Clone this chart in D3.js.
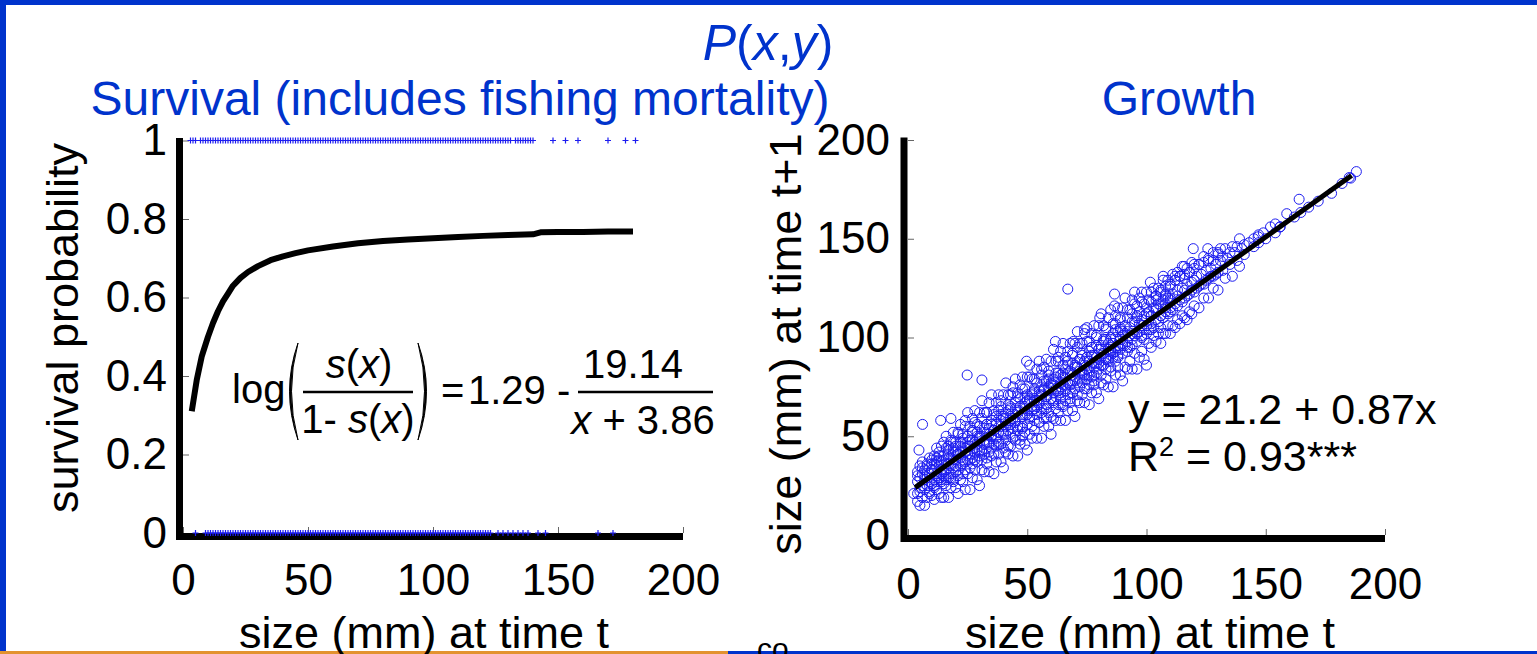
<!DOCTYPE html>
<html>
<head>
<meta charset="utf-8">
<script src="https://cdn.jsdelivr.net/npm/d3@7"></script>
<style>
  html, body { margin: 0; padding: 0; background: #fff; }
  svg { display: block; font-family: "Liberation Sans", Arial, sans-serif; }
</style>
</head>
<body>
<svg id="chart" width="1537" height="654"></svg>
<script>
// ---- data ----
const survTicks = [0, 0.2, 0.4, 0.6, 0.8, 1];
const survTickLabels = ["0", "0.2", "0.4", "0.6", "0.8", "1"];
const sizeTicks = [0, 50, 100, 150, 200];
const growthTicks = [0, 50, 100, 150, 200];

// fish that survived (plotted at 1) and died (plotted at 0), size in mm
const survivedSizes = [3, 4, 5, 7, 8, 9, 10, 11, 12, 13, 14, 15, 16, 17, 18, 19, 20, 21, 22, 23, 24, 25,
  26, 27, 28, 29, 30, 31, 32, 33, 34, 35, 36, 37, 38, 39, 40, 41, 42, 43, 44, 45, 46, 47, 48, 49, 50,
  51, 52, 53, 54, 55, 56, 57, 58, 59, 60, 61, 62, 63, 64, 65, 66, 67, 68, 69, 70, 71, 72, 73, 74, 75,
  76, 77, 78, 79, 80, 81, 82, 83, 84, 85, 86, 87, 88, 89, 90, 91, 92, 93, 94, 95, 96, 97, 98, 99, 100,
  101, 102, 103, 104, 105, 106, 107, 108, 109, 110, 111, 112, 113, 114, 115, 116, 117, 118, 119, 120,
  121, 122, 123, 124, 125, 126, 127, 128, 129, 130, 131, 133, 134, 135, 136, 137, 138, 139, 140,
  148, 153, 158, 170, 177, 181];
const diedSizes = [5, 9, 10, 11, 12, 13, 14, 15, 16, 17, 18, 19, 20, 21, 22, 23, 24, 25, 26, 27, 28, 29,
  30, 31, 32, 33, 34, 35, 36, 37, 38, 39, 40, 41, 42, 43, 44, 45, 46, 47, 48, 49, 50, 51, 52, 53, 54,
  55, 56, 57, 58, 59, 60, 61, 62, 63, 64, 65, 66, 67, 68, 69, 70, 71, 72, 73, 74, 75, 76, 77, 78, 79,
  80, 81, 82, 83, 84, 85, 86, 87, 88, 89, 90, 91, 92, 93, 94, 95, 96, 97, 98, 99, 100, 101, 102, 103,
  104, 105, 106, 107, 108, 109, 110, 111, 112, 113, 114, 115, 116, 117, 118, 119, 120, 121, 122, 123,
  126, 128, 130, 132, 134, 136, 138, 142, 145, 166, 172];

// fitted survival curve
const survCurveX = [3.5, 4.5, 5.5, 6.5, 7.5, 8.5, 10, 12, 14, 16, 18, 20, 23, 26, 30, 35, 40, 45, 50, 60,
  70, 80, 90, 100, 110, 120, 130, 140, 143, 150, 160, 170, 180];
const survCurveY = [0.31, 0.35, 0.39, 0.42, 0.45, 0.47, 0.5, 0.535, 0.565, 0.59, 0.61, 0.63, 0.65,
  0.665, 0.68, 0.695, 0.705, 0.713, 0.72, 0.73, 0.738, 0.744, 0.748, 0.751, 0.754, 0.757, 0.759,
  0.761, 0.766, 0.767, 0.767, 0.768, 0.768];

// growth: [size at t, sizes at t+1 ...]
const growthRows = [
  [4, 21, 27, 30], [5, 24, 29, 22], [6, 31, 25, 34], [7, 23, 28, 30], [8, 35, 25, 29],
  [9, 22, 31, 27], [10, 33, 26, 38], [11, 28, 36, 24], [12, 30, 39, 27], [13, 35, 29, 42],
  [14, 27, 37, 31], [15, 40, 30, 26], [16, 33, 44, 28], [17, 41, 29, 36], [18, 31, 47, 39],
  [19, 34, 42, 28], [20, 45, 32, 38], [21, 30, 41, 52], [22, 47, 35, 42], [23, 36, 49, 31],
  [24, 44, 33, 55], [25, 38, 50, 45], [26, 34, 48, 41], [27, 53, 39, 36], [28, 42, 57, 47],
  [29, 37, 50, 43], [30, 55, 40, 49], [31, 43, 59, 38], [32, 52, 41, 46], [33, 39, 56, 62],
  [34, 47, 54, 42], [35, 58, 44, 50], [36, 41, 61, 53], [37, 49, 57, 45], [38, 63, 47, 52],
  [39, 46, 58, 68], [40, 51, 60, 44], [41, 62, 48, 55], [42, 53, 66, 45], [43, 64, 51, 58],
  [44, 49, 61, 72], [45, 57, 67, 50], [46, 70, 53, 63], [47, 55, 65, 48], [48, 60, 74, 54],
  [49, 52, 67, 61], [50, 71, 56, 63], [51, 59, 69, 80], [52, 63, 55, 72], [53, 74, 58, 68],
  [54, 61, 77, 65], [55, 57, 71, 66], [56, 75, 62, 84], [57, 64, 73, 59], [58, 78, 66, 70],
  [59, 62, 75, 81], [60, 69, 60, 77], [61, 79, 67, 72], [62, 64, 82, 70], [63, 73, 90, 66],
  [64, 81, 69, 75], [65, 65, 80, 86], [66, 74, 84, 68], [67, 88, 71, 77], [68, 69, 83, 76],
  [69, 78, 92, 72], [70, 86, 74, 80], [71, 71, 85, 95], [72, 79, 89, 75], [73, 92, 77, 83],
  [74, 74, 88, 81], [75, 90, 79, 98], [76, 83, 93, 76], [77, 95, 80, 87], [78, 78, 91, 85],
  [79, 87, 101, 82], [80, 94, 84, 89], [81, 81, 96, 90], [82, 99, 86, 92], [83, 89, 104, 84],
  [84, 97, 88, 93], [85, 85, 100, 91], [86, 102, 92, 97], [87, 93, 107, 88], [88, 95, 103, 91],
  [89, 104, 94, 110], [90, 92, 101, 97], [91, 106, 96, 102], [92, 98, 110, 93], [93, 105, 95, 101],
  [94, 99, 112, 96], [95, 108, 101, 117], [96, 102, 110, 98], [97, 113, 103, 107], [98, 100, 109, 118],
  [99, 111, 104, 99], [100, 106, 115, 102], [101, 113, 104], [102, 107, 118, 111], [103, 115, 105],
  [104, 109, 121, 114], [105, 117, 108], [106, 111, 124, 116], [107, 119, 110], [108, 113, 122, 117],
  [109, 120, 112], [110, 115, 127, 119], [111, 122, 114], [112, 117, 129], [113, 124, 116, 121],
  [114, 119, 131], [115, 125, 118], [116, 120, 130, 124], [117, 127, 121], [118, 122, 133],
  [119, 128, 124], [120, 123, 135, 129], [121, 131, 125], [122, 126, 137], [123, 132, 127],
  [124, 127, 138], [125, 134, 129], [126, 130, 140], [127, 135, 131], [128, 131, 139],
  [129, 137, 132], [130, 133, 142], [131, 139], [132, 134, 141], [134, 140], [135, 137, 143],
  [137, 143], [138, 139, 146], [140, 145], [141, 142, 147], [143, 148], [145, 150, 146],
  [147, 148, 152], [149, 153], [150, 150], [152, 156], [154, 153], [156, 156], [162, 161],
  [168, 166], [172, 169], [182, 178], [185, 181]
];
// the wider edges of the cloud: [size at t, low, high]
const growthEdgeRows = [
  [4, 17, 32], [5, 15, 35], [6, 19, 37], [7, 15, 33], [8, 19, 36], [9, 21, 39], [10, 20, 36],
  [11, 18, 40], [12, 23, 44], [13, 21, 40], [14, 19, 45], [15, 19, 47], [16, 25, 50], [17, 19, 45],
  [18, 24, 48], [19, 27, 52], [20, 24, 47], [21, 21, 51], [22, 28, 56], [23, 27, 51], [24, 23, 58],
  [25, 31, 62], [26, 23, 55], [27, 29, 59], [28, 33, 63], [29, 28, 56], [30, 25, 62], [31, 33, 68],
  [32, 32, 62], [33, 36, 62], [34, 32, 67], [35, 40, 71], [36, 31, 63], [37, 37, 67], [38, 41, 71],
  [39, 37, 65], [40, 34, 71], [41, 42, 77], [42, 41, 71], [43, 45, 71], [44, 40, 75], [45, 48, 79],
  [46, 40, 72], [47, 46, 76], [48, 50, 80], [49, 46, 74], [50, 43, 80], [51, 51, 86], [52, 49, 79],
  [53, 53, 79], [54, 49, 84], [55, 57, 88], [56, 49, 81], [57, 55, 85], [58, 59, 89], [59, 55, 83],
  [60, 51, 88], [61, 59, 94], [62, 58, 88], [63, 62, 88], [64, 58, 93], [65, 66, 97], [66, 58, 90],
  [67, 63, 93], [68, 67, 97], [69, 63, 91], [70, 60, 97], [71, 68, 103], [72, 67, 97], [73, 71, 97],
  [74, 67, 102], [75, 74, 105], [76, 66, 98], [77, 72, 102], [78, 76, 106], [79, 72, 100],
  [80, 69, 106], [81, 77, 112], [82, 76, 106], [83, 79, 105], [84, 75, 110], [85, 83, 114],
  [86, 75, 107], [87, 81, 111], [88, 85, 115], [89, 81, 109], [90, 78, 115], [91, 85, 120],
  [92, 84, 114], [93, 88, 114], [94, 84, 119], [95, 92, 123], [96, 84, 116], [97, 90, 120],
  [98, 93, 123], [99, 89, 117], [100, 86, 123], [101, 97, 119], [102, 95, 123], [103, 101, 125],
  [104, 98, 121], [105, 102, 125], [106, 97, 123], [107, 102, 129], [108, 102, 126], [109, 106, 129],
  [110, 102, 126], [111, 106, 132], [112, 105, 129], [113, 109, 133], [114, 107, 131], [115, 111, 136],
  [116, 110, 132], [117, 109, 135], [118, 113, 133], [119, 112, 138], [120, 116, 137], [122, 115, 137],
  [124, 120, 141], [126, 120, 139], [128, 125, 143], [130, 124, 143], [133, 130, 145], [136, 131, 146],
  [139, 136, 150]
];
// the dense core close to the fitted line: [size at t, a, b]
const growthCoreRows = [
  [10, 26, 33], [11, 33, 25], [12, 37, 31], [13, 29, 38], [14, 33, 28], [15, 38, 32], [16, 29, 36],
  [17, 39, 43], [18, 35, 29], [19, 44, 38], [20, 35, 42], [21, 41, 33], [22, 45, 39], [23, 38, 47],
  [24, 42, 37], [25, 47, 41], [26, 38, 45], [27, 48, 52], [28, 44, 38], [29, 52, 46], [30, 43, 50],
  [31, 50, 42], [32, 54, 48], [33, 47, 56], [34, 51, 46], [35, 56, 50], [36, 46, 53], [37, 56, 60],
  [38, 52, 46], [39, 61, 55], [40, 52, 59], [41, 59, 51], [42, 63, 57], [43, 56, 65], [44, 59, 54],
  [45, 64, 58], [46, 55, 62], [47, 65, 69], [48, 61, 55], [49, 70, 64], [50, 61, 68], [51, 68, 60],
  [52, 71, 65], [53, 64, 73], [54, 68, 63], [55, 73, 67], [56, 64, 71], [57, 74, 78], [58, 70, 64],
  [59, 79, 73], [60, 69, 76], [61, 76, 68], [62, 80, 74], [63, 73, 82], [64, 77, 72], [65, 82, 76],
  [66, 73, 80], [67, 82, 86], [68, 78, 72], [69, 87, 81], [70, 78, 85], [71, 85, 77], [72, 89, 83],
  [73, 82, 91], [74, 86, 81], [75, 90, 84], [76, 81, 88], [77, 91, 95], [78, 87, 81], [79, 96, 90],
  [80, 87, 94], [81, 94, 86], [82, 98, 92], [83, 90, 99], [84, 94, 89], [85, 99, 93], [86, 90, 97],
  [87, 100, 104], [88, 96, 90], [89, 105, 99], [90, 96, 103], [92, 103, 95], [94, 108, 102],
  [96, 102, 111], [98, 106, 101], [100, 112, 106], [102, 104, 111], [104, 115, 119], [106, 111, 105],
  [108, 121, 115], [110, 113, 120]
];
const growthOutliers = [[2.4, 21], [4.6, 43], [6.1, 56], [13.7, 58], [18, 59], [24.8, 81], [31, 78.5],
  [49.7, 88], [61.8, 98], [69.3, 98], [74, 104], [80.4, 110], [86.6, 116], [86.6, 122], [67, 124.5],
  [101.6, 128], [107, 131], [112, 131], [115.8, 136], [119.6, 145], [125.7, 145], [131, 145],
  [146.8, 151], [154, 157.5], [156, 156], [158.8, 162.7], [164.7, 163.3], [164, 170], [177.6, 173],
  [185.6, 180.7], [188, 184]];
const fitX = [3, 186];
const fitY = [24, 182];

// ---- setup ----
const blue = "#0033cc";
const markBlue = "#1c1cf0";
const svg = d3.select("#chart");

// slide frame
svg.append("rect").attr("x", 0).attr("y", 0).attr("width", 1537).attr("height", 5).attr("fill", blue);
svg.append("rect").attr("x", 0).attr("y", 0).attr("width", 6).attr("height", 654).attr("fill", blue);
svg.append("rect").attr("x", 0).attr("y", 651).attr("width", 728).attr("height", 3).attr("fill", "#e3922f");
svg.append("rect").attr("x", 728).attr("y", 651).attr("width", 809).attr("height", 3).attr("fill", blue);

// titles
const titleP = svg.append("text")
  .attr("x", 768).attr("y", 60)
  .attr("text-anchor", "middle")
  .attr("fill", blue)
  .style("font-size", "50px");
titleP.append("tspan").style("font-style", "italic").text("P");
titleP.append("tspan").text("(");
titleP.append("tspan").style("font-style", "italic").text("x");
titleP.append("tspan").text(",");
titleP.append("tspan").style("font-style", "italic").text("y");
titleP.append("tspan").text(")");

svg.append("text").attr("x", 460).attr("y", 115).attr("text-anchor", "middle")
  .attr("fill", blue).style("font-size", "48px").text("Survival (includes fishing mortality)");
svg.append("text").attr("x", 1179).attr("y", 115).attr("text-anchor", "middle")
  .attr("fill", blue).style("font-size", "48px").text("Growth");

// ---- left panel: survival ----
const xL = d3.scaleLinear().domain([0, 200]).range([183, 683]);
const yL = d3.scaleLinear().domain([0, 1]).range([533, 140.5]);

function styleAxis(g) {
  g.select(".domain").remove();
  g.selectAll(".tick line").attr("stroke", "#666").attr("stroke-width", 1);
  g.selectAll(".tick text").attr("fill", "#000").style("font-size", "44px")
    .style("font-family", "'Liberation Sans', Arial, sans-serif");
}

svg.append("g")
  .attr("transform", `translate(${xL(0)},0)`)
  .call(d3.axisLeft(yL).tickValues(survTicks).tickFormat((d, i) => survTickLabels[i])
    .tickSizeInner(-6).tickSizeOuter(0).tickPadding(16))
  .call(styleAxis);

svg.append("g")
  .attr("transform", `translate(0,${yL(0)})`)
  .call(d3.axisBottom(xL).tickValues(sizeTicks).tickSizeInner(-6).tickSizeOuter(0).tickPadding(31))
  .call(styleAxis);

// axis lines (thick, drawn just outside the data box)
svg.append("path")
  .attr("d", `M${xL(0) - 3.5},${yL(1) - 2.5}V${yL(0) + 3.5}H${xL(200)}`)
  .attr("fill", "none").attr("stroke", "#000").attr("stroke-width", 7);

const plus = "M-3,0H3M0,-3V3";
svg.append("g").selectAll("path.surv")
  .data(survivedSizes).join("path")
  .attr("transform", d => `translate(${xL(d)},${yL(1)})`)
  .attr("d", plus).attr("stroke", markBlue).attr("stroke-width", 1.2).attr("fill", "none");
svg.append("g").selectAll("path.died")
  .data(diedSizes).join("path")
  .attr("transform", d => `translate(${xL(d)},${yL(0)})`)
  .attr("d", plus).attr("stroke", markBlue).attr("stroke-width", 1.2).attr("fill", "none");

const survLine = d3.line().x(d => xL(d[0])).y(d => yL(d[1]));
svg.append("path")
  .datum(d3.zip(survCurveX, survCurveY))
  .attr("d", survLine)
  .attr("fill", "none").attr("stroke", "#000").attr("stroke-width", 6)
  .attr("stroke-linejoin", "round");

svg.append("text")
  .attr("transform", "translate(78,328) rotate(-90)")
  .attr("text-anchor", "middle").style("font-size", "45px")
  .text("survival probability");
svg.append("text").attr("x", 424).attr("y", 648).attr("text-anchor", "middle")
  .style("font-size", "45px").text("size (mm) at time t");

// equation
const eq = svg.append("g").style("font-size", "40px").attr("fill", "#000");
eq.append("text").attr("x", 232).attr("y", 403).text("log");
function paren(x0, dir) {
  // crescent-shaped tall bracket
  const b = x0 + dir * 17;
  const bi = x0 + dir * 13;
  eq.append("path")
    .attr("d", `M${x0},343Q${b},391 ${x0},440Q${bi},391 ${x0},343Z`)
    .attr("fill", "#000").attr("stroke", "#000").attr("stroke-width", 1);
}
paren(298, -1);
paren(418, 1);
const num1 = eq.append("text").attr("x", 359).attr("y", 378).attr("text-anchor", "middle");
num1.append("tspan").style("font-style", "italic").text("s");
num1.append("tspan").text("(");
num1.append("tspan").style("font-style", "italic").text("x");
num1.append("tspan").text(")");
eq.append("line").attr("x1", 303).attr("x2", 413).attr("y1", 392).attr("y2", 392)
  .attr("stroke", "#000").attr("stroke-width", 2.5);
const den1 = eq.append("text").attr("x", 358).attr("y", 433).attr("text-anchor", "middle");
den1.append("tspan").text("1- ");
den1.append("tspan").style("font-style", "italic").text("s");
den1.append("tspan").text("(");
den1.append("tspan").style("font-style", "italic").text("x");
den1.append("tspan").text(")");
eq.append("text").attr("x", 441).attr("y", 404).text("=");
eq.append("text").attr("x", 468).attr("y", 404).text("1.29 -");
eq.append("text").attr("x", 633).attr("y", 378).attr("text-anchor", "middle").text("19.14");
eq.append("line").attr("x1", 578).attr("x2", 713).attr("y1", 392).attr("y2", 392)
  .attr("stroke", "#000").attr("stroke-width", 2.5);
const den2 = eq.append("text").attr("x", 643).attr("y", 434).attr("text-anchor", "middle");
den2.append("tspan").style("font-style", "italic").text("x");
den2.append("tspan").text(" + 3.86");

// ---- right panel: growth ----
const xR = d3.scaleLinear().domain([0, 200]).range([908, 1385]);
const yR = d3.scaleLinear().domain([0, 200]).range([535, 140]);

svg.append("g")
  .attr("transform", `translate(${xR(0)},0)`)
  .call(d3.axisLeft(yR).tickValues(growthTicks).tickSizeInner(-6).tickSizeOuter(0).tickPadding(18))
  .call(styleAxis);
svg.append("g")
  .attr("transform", `translate(0,${yR(0)})`)
  .call(d3.axisBottom(xR).tickValues(sizeTicks).tickSizeInner(-6).tickSizeOuter(0).tickPadding(33))
  .call(styleAxis);

svg.append("path")
  .attr("d", `M${xR(0) - 4},${yR(200) - 2.5}V${yR(0) + 3.5}H${xR(200)}`)
  .attr("fill", "none").attr("stroke", "#000").attr("stroke-width", 7);

const toPoints = rows => rows.flatMap(r => r.slice(1).map(v => [r[0], v]));
const growthPoints = toPoints(growthEdgeRows)
  .concat(toPoints(growthRows), toPoints(growthCoreRows), growthOutliers);
svg.append("g").selectAll("circle")
  .data(growthPoints).join("circle")
  .attr("cx", d => xR(d[0])).attr("cy", d => yR(d[1])).attr("r", 5)
  .attr("fill", "none").attr("stroke", markBlue).attr("stroke-width", 1);

svg.append("path")
  .datum(d3.zip(fitX, fitY))
  .attr("d", d3.line().x(d => xR(d[0])).y(d => yR(d[1])))
  .attr("stroke", "#000").attr("stroke-width", 5).attr("fill", "none");

svg.append("text").attr("x", 1128).attr("y", 424).style("font-size", "43px").text("y = 21.2 + 0.87x");
const r2 = svg.append("text").attr("x", 1128).attr("y", 471).style("font-size", "43px");
r2.append("tspan").text("R");
r2.append("tspan").attr("dy", -15).style("font-size", "27px").text("2");
r2.append("tspan").attr("dy", 15).text(" = 0.93***");

svg.append("text")
  .attr("transform", "translate(801,344) rotate(-90)")
  .attr("text-anchor", "middle").style("font-size", "45px")
  .text("size (mm) at time t+1");
svg.append("text").attr("x", 1150).attr("y", 648).attr("text-anchor", "middle")
  .style("font-size", "45px").text("size (mm) at time t");

// cut-off text from the slide below
svg.append("text").attr("x", 757).attr("y", 659).style("font-size", "30px").text("co");
</script>
</body>
</html>
